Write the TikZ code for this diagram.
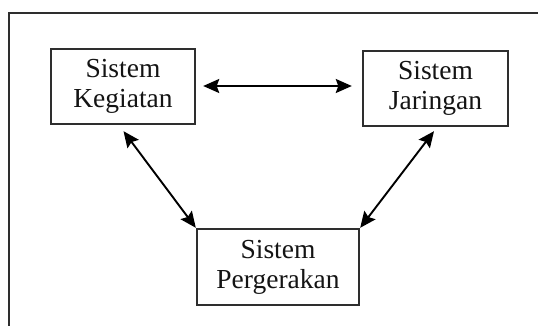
\documentclass[tikz,border=0pt]{standalone}
\usepackage{fontspec}
\setmainfont{Liberation Serif}
\usetikzlibrary{arrows.meta}
\definecolor{boxline}{HTML}{2E2E2E}
\definecolor{txt}{HTML}{141414}
\begin{document}
\begin{tikzpicture}[x=1pt,y=1pt,
  sysbox/.style={draw=boxline,line width=2.4pt,fill=white,minimum width=#1,minimum height=75pt,
    align=center,inner sep=0pt,font=\fontsize{27.5}{30}\selectfont,text=txt},
  link/.style={line width=1.9pt,{Stealth[length=16pt,width=14pt,inset=2.5pt]}-{Stealth[length=16pt,width=14pt,inset=2.5pt]}}]
\useasboundingbox (0,0) rectangle (538,326);
\clip (0,0) rectangle (538,326);
\fill[white] (0,0) rectangle (538,326);
\draw[boxline,line width=2pt] (8.6,-10) -- (8.6,313) -- (550,313);
\node[sysbox=144pt] (kg) at (123,239.5) {Sistem\\Kegiatan};
\node[sysbox=145pt] (jr) at (435.5,237.5) {Sistem\\Jaringan};
\node[sysbox=162pt,minimum height=76pt] (pg) at (278,59) {Sistem\\Pergerakan};
\draw[link] ([xshift=7pt,yshift=0.5pt]kg.east) -- ([xshift=-10pt,yshift=0.5pt]kg.east -| jr.west);
\draw[link] ([xshift=0.5pt,yshift=-6pt]kg.south) -- (pg.north west);
\draw[link] ([xshift=-1.5pt,yshift=-4pt]jr.south) -- (pg.north east);
\end{tikzpicture}
\end{document}
